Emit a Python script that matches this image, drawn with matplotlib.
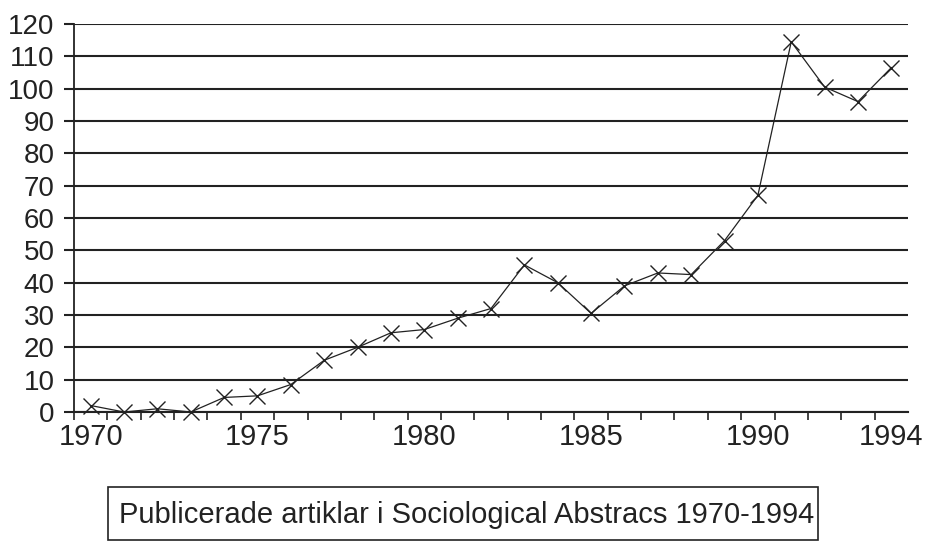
import matplotlib
matplotlib.use('Agg')
import matplotlib.pyplot as plt
from matplotlib.patches import Rectangle

# data
years = list(range(1970, 1995))
articles = [2, 0, 1, 0, 4.5, 5, 8.5, 16, 20, 24.5, 25.5, 29, 32,
            45.5, 40, 30.5, 39, 43, 42.5, 53, 67, 114.5, 100.5, 96, 106.5]
label_years = [1970, 1975, 1980, 1985, 1990, 1994]
y_ticks = list(range(0, 130, 10))
legend_text = 'Publicerade artiklar i Sociological Abstracs 1970-1994'

plt.rcParams['font.family'] = ['Liberation Sans', 'DejaVu Sans']
ink = '#222222'

fig = plt.figure(figsize=(9.27, 5.41), dpi=100)
ax = fig.add_axes([74 / 927, 129 / 541, 834 / 927, 388 / 541])

# horizontal grid lines at every tick
for v in y_ticks:
    ax.axhline(v, color=ink, lw=1.5, zorder=1)

ax.plot(years, articles, color=ink, lw=0.9, marker='x', markersize=11.5,
        markeredgewidth=1.0, zorder=3, clip_on=False)

ax.set_xlim(1969.5, 1994.5)
ax.set_ylim(0, 120)
ax.set_yticks(y_ticks)
ax.set_xticks(label_years)
ax.set_xticks([y + 0.5 for y in range(1969, 1994)], minor=True)
ax.tick_params(axis='y', length=7, width=1.5, color=ink, labelsize=20,
               labelcolor=ink, pad=7)
ax.tick_params(axis='x', which='major', length=0, labelsize=21,
               labelcolor=ink, pad=8)
ax.tick_params(axis='x', which='minor', length=6, width=1.2, color=ink)

for s in ['top', 'right']:
    ax.spines[s].set_visible(False)
ax.spines['left'].set_color(ink)
ax.spines['left'].set_linewidth(1.3)
ax.spines['bottom'].set_color(ink)
ax.spines['bottom'].set_linewidth(1.5)

# legend-like caption box under the chart
fig.add_artist(Rectangle((108 / 927, 1 / 541), 710 / 927, 53 / 541,
                         transform=fig.transFigure, fill=False,
                         edgecolor=ink, lw=1.2))
fig.text(119 / 927, 26 / 541, legend_text, fontsize=21, color=ink,
         ha='left', va='center')

fig.savefig('out.png', dpi=100)
